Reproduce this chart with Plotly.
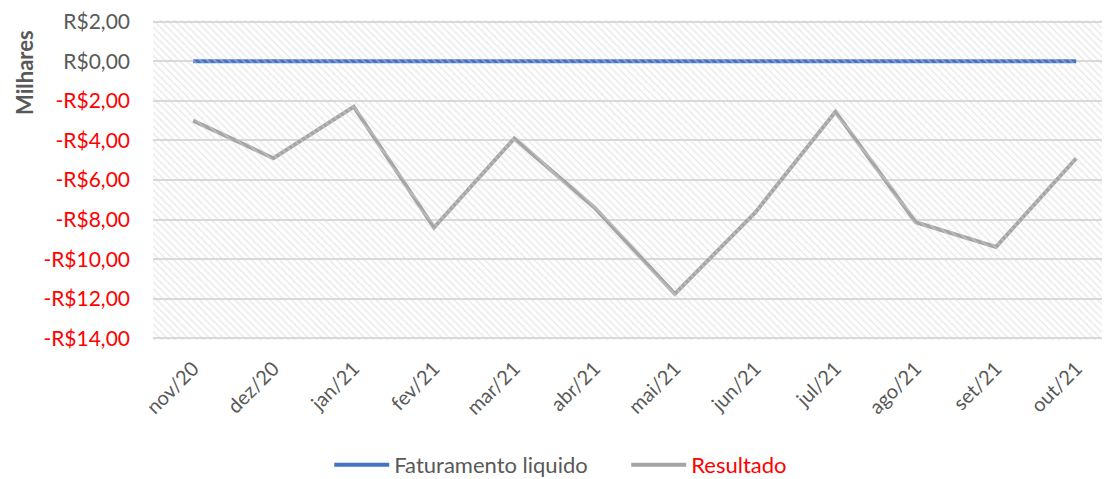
import plotly.graph_objects as go

meses = ["nov/20", "dez/20", "jan/21", "fev/21", "mar/21", "abr/21",
         "mai/21", "jun/21", "jul/21", "ago/21", "set/21", "out/21"]
faturamento = [0, 0, 0, 0, 0, 0, 0, 0, 0, 0, 0, 0]
resultado = [-3.0, -4.9, -2.3, -8.4, -3.9, -7.4, -11.75, -7.65, -2.55, -8.13, -9.38, -4.9]
y_ticks = [2, 0, -2, -4, -6, -8, -10, -12, -14]

def fmt(v):
    s = "R$%d,00" % abs(v)
    if v < 0:
        return "<span style='color:#FF0000'>-" + s + "</span>"
    return s

FONT = "Lato"
GRAY = "#595959"

fig = go.Figure()

# hatched plot-area background (decoration)
fig.add_trace(go.Scatter(
    x=[0, 1, 1, 0, 0], y=[0, 0, 1, 1, 0], xaxis="x2", yaxis="y2",
    mode="none", fill="toself", fillcolor="rgba(0,0,0,0)",
    fillpattern=dict(shape="\\", fgcolor="#d6d6d6", bgcolor="rgba(0,0,0,0)",
                     size=5, solidity=0.33),
    showlegend=False, hoverinfo="skip"))

fig.add_trace(go.Scatter(
    x=meses, y=faturamento, mode="lines", name="Faturamento liquido",
    line=dict(color="#4472C4", width=4)))
fig.add_trace(go.Scatter(
    x=meses, y=resultado, mode="lines",
    name="<span style='color:#FF0000'>Resultado</span>",
    line=dict(color="#A5A5A5", width=4)))

fig.update_layout(
    width=1102, height=471,
    margin=dict(l=145, r=0, t=12, b=139, autoexpand=False),
    paper_bgcolor="white", plot_bgcolor="white",
    font=dict(family=FONT, color=GRAY, size=20),
    xaxis=dict(type="category", range=[-0.5, 11.42], tickangle=-45,
               showgrid=False, zeroline=False, showline=False, ticks="",
               automargin=False, ticklabelstandoff=12,
               tickfont=dict(size=20, color=GRAY)),
    yaxis=dict(range=[-14.08, 2.08], tickvals=y_ticks, ticktext=[fmt(v) for v in y_ticks],
               showgrid=True, gridcolor="#D9D9D9", gridwidth=1.5,
               zeroline=False, showline=False, ticks="", automargin=False,
               ticklabelstandoff=22, ticklabeloverflow="allow",
               tickfont=dict(size=21, color=GRAY)),
    xaxis2=dict(overlaying="x", range=[0, 1], visible=False, fixedrange=True),
    yaxis2=dict(overlaying="y", range=[0, 1], visible=False, fixedrange=True),
    legend=dict(orientation="h", xref="container", xanchor="center", x=0.561,
                yref="container", yanchor="middle", y=0.03,
                font=dict(size=22, color=GRAY), itemwidth=55, entrywidth=227),
    showlegend=True,
    annotations=[dict(text="<b>Milhares</b>", textangle=-90, xref="paper", yref="paper",
                      x=-0.1338, y=0.8375, xanchor="center", yanchor="middle",
                      showarrow=False, font=dict(size=22, color=GRAY, family=FONT))],
)

fig.write_html("out.html")
